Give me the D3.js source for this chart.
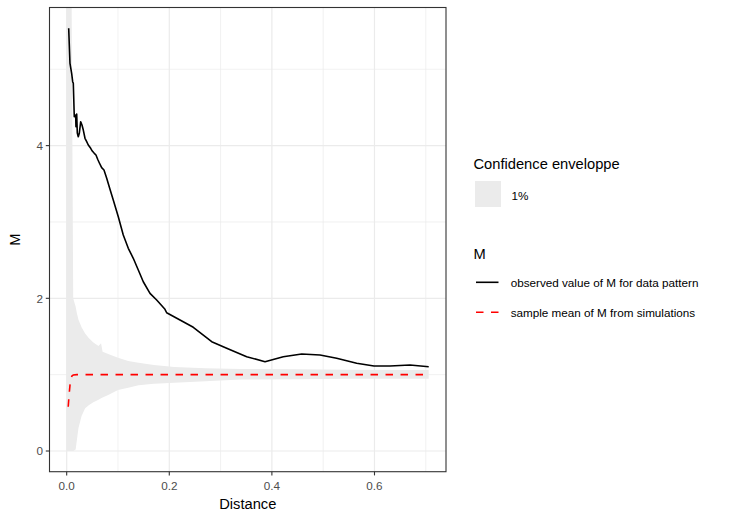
<!DOCTYPE html>
<html><head><meta charset="utf-8">
<script src="https://cdn.jsdelivr.net/npm/d3@7/dist/d3.min.js"></script>
<style>body{margin:0;background:#fff}svg{display:block}text{font-family:"Liberation Sans",Arial,sans-serif}</style>
</head><body><svg id="c" width="744" height="514"></svg>
<script>
// ---- data ----
const obsD = [0.0039,0.0064,0.0097,0.0117,0.0129,0.0148,0.0175,0.0181,0.0195,0.0207,0.0226,0.0246,0.0273,0.0298,0.0324,0.0357,0.0390,0.0421,0.0468,0.0499,0.0538,0.0571,0.0604,0.0635,0.0682,0.0727,0.0780,0.0844,0.0908,0.1006,0.1103,0.1201,0.1298,0.1396,0.1493,0.1624,0.1754,0.1916,0.1949,0.2209,0.2468,0.2827,0.3119,0.3509,0.3866,0.4222,0.4581,0.4938,0.5263,0.5653,0.5990,0.6302,0.6692,0.7057];
const obsV = [5.536,5.078,4.947,4.837,4.816,4.379,4.401,4.248,4.414,4.165,4.117,4.161,4.313,4.270,4.204,4.096,4.051,4.008,3.965,3.929,3.899,3.877,3.821,3.776,3.711,3.680,3.572,3.428,3.287,3.069,2.829,2.655,2.524,2.371,2.217,2.065,1.978,1.856,1.811,1.716,1.620,1.432,1.345,1.235,1.170,1.235,1.270,1.257,1.214,1.149,1.113,1.113,1.126,1.104];
const meanD = [0.003,0.0045,0.0064,0.0084,0.0105,0.0129,0.02,0.1,0.2,0.3,0.4,0.5,0.6,0.7057];
const meanV = [0.58,0.72,0.86,0.956,0.985,0.995,1.0,1.0,1.0,1.0,1.0,1.0,1.0,1.0];
const envD  = [0,0.0097,0.0127,0.0175,0.020,0.023,0.029,0.036,0.043,0.052,0.062,0.067,0.070,0.081,0.10,0.12,0.14,0.17,0.21,0.27,0.34,0.45,0.55,0.65,0.7057];
const envLo = [0,0,0,0.02,0.15,0.30,0.46,0.56,0.60,0.64,0.67,0.69,0.70,0.733,0.80,0.83,0.86,0.88,0.895,0.915,0.935,0.94,0.945,0.945,0.945];
const envHi = [Infinity,Infinity,2.0,1.89,1.80,1.72,1.62,1.54,1.48,1.42,1.375,1.41,1.30,1.27,1.22,1.18,1.155,1.125,1.10,1.085,1.075,1.07,1.065,1.06,1.06];
const xTicks = [0,0.2,0.4,0.6], xTickLabels = ["0.0","0.2","0.4","0.6"];
const xMinor = [0.1,0.3,0.5,0.7];
const yTicks = [0,2,4], yTickLabels = ["0","2","4"];
const yMinor = [1,3,5];

// ---- layout ----
const svg = d3.select("#c");
const L=49.5, R=446, T=7.5, B=471.7;
const x = d3.scaleLinear().domain([-0.0335,0.7394]).range([L,R]);
const y = d3.scaleLinear().domain([-0.271,5.809]).range([B,T]);

svg.append("defs").append("clipPath").attr("id","clip").append("rect")
  .attr("x",L).attr("y",T).attr("width",R-L).attr("height",B-T);
const g = svg.append("g");
g.append("rect").attr("x",L).attr("y",T).attr("width",R-L).attr("height",B-T).attr("fill","#fff");
// grid
g.selectAll(".xm").data(xMinor).join("line").attr("x1",d=>x(d)).attr("x2",d=>x(d)).attr("y1",T).attr("y2",B).attr("stroke","#ebebeb").attr("stroke-width",0.7);
g.selectAll(".ym").data(yMinor).join("line").attr("y1",d=>y(d)).attr("y2",d=>y(d)).attr("x1",L).attr("x2",R).attr("stroke","#ebebeb").attr("stroke-width",0.7);
g.selectAll(".xM").data(xTicks).join("line").attr("x1",d=>x(d)).attr("x2",d=>x(d)).attr("y1",T).attr("y2",B).attr("stroke","#ebebeb").attr("stroke-width",1.2);
g.selectAll(".yM").data(yTicks).join("line").attr("y1",d=>y(d)).attr("y2",d=>y(d)).attr("x1",L).attr("x2",R).attr("stroke","#ebebeb").attr("stroke-width",1.2);

const plot = svg.append("g").attr("clip-path","url(#clip)");
const env = envD.map((d,i)=>({d, lo:envLo[i], hi:envHi[i]}));
plot.append("path").datum(env)
  .attr("d", d3.area().x(p=>x(p.d)).y0(p=>y(p.lo)).y1(p=>isFinite(p.hi)?y(p.hi):T))
  .attr("fill","#ebebeb");
plot.append("path").datum(meanD.map((d,i)=>[d,meanV[i]]))
  .attr("d", d3.line().x(p=>x(p[0])).y(p=>y(p[1])))
  .attr("fill","none").attr("stroke","#ff0000").attr("stroke-width",1.6).attr("stroke-dasharray","7.5,7.5");
plot.append("path").datum(obsD.map((d,i)=>[d,obsV[i]]))
  .attr("d", d3.line().x(p=>x(p[0])).y(p=>y(p[1])))
  .attr("fill","none").attr("stroke","#000").attr("stroke-width",1.6).attr("stroke-linejoin","round");

// border
svg.append("rect").attr("x",L).attr("y",T).attr("width",R-L).attr("height",B-T).attr("fill","none").attr("stroke","#333").attr("stroke-width",1.1);

// axes ticks
const ax = svg.append("g");
ax.selectAll(".xt").data(xTicks).join("line").attr("x1",d=>x(d)).attr("x2",d=>x(d)).attr("y1",B).attr("y2",B+3.7).attr("stroke","#333").attr("stroke-width",1.1);
ax.selectAll(".xl").data(xTicks).join("text").attr("x",d=>x(d)).attr("y",490).attr("text-anchor","middle").attr("font-size",11.7).attr("fill","#4d4d4d").text((d,i)=>xTickLabels[i]);
ax.selectAll(".yt").data(yTicks).join("line").attr("y1",d=>y(d)).attr("y2",d=>y(d)).attr("x1",L-3.7).attr("x2",L).attr("stroke","#333").attr("stroke-width",1.1);
ax.selectAll(".yl").data(yTicks).join("text").attr("x",43).attr("y",d=>y(d)+4.2).attr("text-anchor","end").attr("font-size",11.7).attr("fill","#4d4d4d").text((d,i)=>yTickLabels[i]);
svg.append("text").attr("x",(L+R)/2).attr("y",509).attr("text-anchor","middle").attr("font-size",14.7).text("Distance");
svg.append("text").attr("transform",`translate(20,${(T+B)/2}) rotate(-90)`).attr("text-anchor","middle").attr("font-size",14.7).text("M");

// legend
const lg = svg.append("g");
lg.append("text").attr("x",473.5).attr("y",169.3).attr("font-size",14.7).text("Confidence enveloppe");
lg.append("rect").attr("x",475).attr("y",181).attr("width",26).attr("height",26).attr("fill","#ebebeb");
lg.append("text").attr("x",511.5).attr("y",199.5).attr("font-size",11.7).text("1%");
lg.append("text").attr("x",473.5).attr("y",259.3).attr("font-size",14.7).text("M");
lg.append("line").attr("x1",476).attr("x2",498.5).attr("y1",282.3).attr("y2",282.3).attr("stroke","#000").attr("stroke-width",1.6);
lg.append("text").attr("x",510.7).attr("y",286.5).attr("font-size",11.7).text("observed value of M for data pattern");
lg.append("line").attr("x1",476).attr("x2",498.5).attr("y1",312.3).attr("y2",312.3).attr("stroke","#ff0000").attr("stroke-width",1.6).attr("stroke-dasharray","7.5,7.5");
lg.append("text").attr("x",510.7).attr("y",316.5).attr("font-size",11.7).text("sample mean of M from simulations");
</script></body></html>
